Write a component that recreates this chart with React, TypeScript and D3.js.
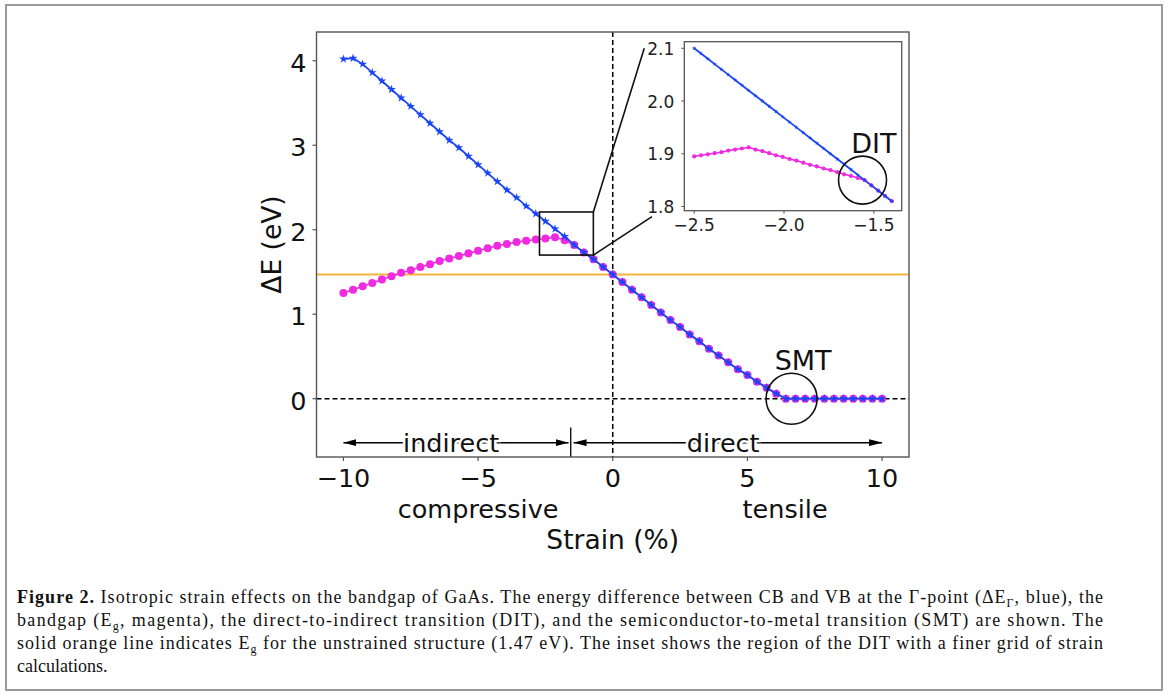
import React from "react";
import * as d3 from "d3";

// ---------- data ----------
const strain = [-10, -9.643, -9.286, -8.929, -8.571, -8.214, -7.857, -7.5, -7.143, -6.786, -6.429, -6.071, -5.714, -5.357, -5, -4.643, -4.286, -3.929, -3.571, -3.214, -2.857, -2.5, -2.143, -1.786, -1.429, -1.071, -0.714, -0.357, 0, 0.357, 0.714, 1.071, 1.429, 1.786, 2.143, 2.5, 2.857, 3.214, 3.571, 3.929, 4.286, 4.643, 5, 5.357, 5.714, 6.071, 6.429, 6.786, 7.143, 7.5, 7.857, 8.214, 8.571, 8.929, 9.286, 9.643, 10];
const deltaGamma = [4.02, 4.03, 3.96, 3.86, 3.76, 3.66, 3.56, 3.46, 3.36, 3.26, 3.16, 3.06, 2.97, 2.87, 2.77, 2.67, 2.57, 2.47, 2.38, 2.28, 2.19, 2.10, 2.01, 1.92, 1.82, 1.73, 1.65, 1.56, 1.47, 1.38, 1.29, 1.20, 1.11, 1.02, 0.93, 0.85, 0.76, 0.68, 0.59, 0.51, 0.43, 0.35, 0.28, 0.20, 0.13, 0.06, 0, 0, 0, 0, 0, 0, 0, 0, 0, 0, 0];
const bandgap = [1.25, 1.29, 1.33, 1.37, 1.41, 1.45, 1.49, 1.52, 1.56, 1.59, 1.63, 1.66, 1.69, 1.72, 1.75, 1.78, 1.81, 1.83, 1.855, 1.87, 1.885, 1.895, 1.91, 1.875, 1.82, 1.73, 1.65, 1.56, 1.47, 1.38, 1.29, 1.20, 1.11, 1.02, 0.93, 0.85, 0.76, 0.68, 0.59, 0.51, 0.43, 0.35, 0.28, 0.20, 0.13, 0.06, 0, 0, 0, 0, 0, 0, 0, 0, 0, 0, 0];

const insetStrain = [-2.5, -2.4621, -2.4241, -2.3862, -2.3483, -2.3103, -2.2724, -2.2345, -2.1966, -2.1586, -2.1207, -2.0828, -2.0448, -2.0069, -1.969, -1.931, -1.8931, -1.8552, -1.8172, -1.7793, -1.7414, -1.7034, -1.6655, -1.6276, -1.5897, -1.5517, -1.5138, -1.4759, -1.4379, -1.4];
const insetGamma = [2.100, 2.090, 2.080, 2.070, 2.060, 2.050, 2.040, 2.030, 2.020, 2.010, 2.000, 1.990, 1.980, 1.970, 1.960, 1.950, 1.940, 1.930, 1.920, 1.910, 1.900, 1.890, 1.880, 1.870, 1.860, 1.850, 1.840, 1.830, 1.820, 1.810];
const insetGap = [1.895, 1.897, 1.899, 1.901, 1.903, 1.906, 1.908, 1.910, 1.912, 1.908, 1.905, 1.901, 1.897, 1.894, 1.890, 1.887, 1.883, 1.879, 1.876, 1.872, 1.869, 1.865, 1.861, 1.858, 1.854, 1.850, 1.840, 1.830, 1.820, 1.810];

const xTicks = [-10, -5, 0, 5, 10];
const yTicks = [0, 1, 2, 3, 4];
const insetXTicks = [-2.5, -2.0, -1.5];
const insetYTicks = [1.8, 1.9, 2.0, 2.1];

const unstrainedGap = 1.47;
const zoomBox = { x0: -2.72, x1: -0.72, y0: 1.70, y1: 2.21 };
const connectors = [
  { fromX: -0.72, fromY: 2.21, toX: 1.17, toY: 4.147 },
  { fromX: -0.72, fromY: 1.70, toX: 1.456, toY: 2.154 },
];
const regions = [
  { label: "indirect", from: -10, to: -1.64, textX: -6 },
  { label: "direct", from: -1.455, to: 10, textX: 4.1 },
];
const regionY = -0.52;
const dividerX = -1.56;
const dividerTop = -0.34;
const sideLabels = [
  { label: "compressive", x: -5 },
  { label: "tensile", x: 6.4 },
];
const smt = { x: 6.64, y: 0, textX: 7.07, textY: 0.34 };
const dit = { x: -1.563, y: 1.85, textX: -1.5, textY: 1.901 };

const captionLines = [
  "Isotropic strain effects on the bandgap of GaAs. The energy difference between CB and VB at the Γ-point (ΔE",
  "bandgap (E",
  "solid orange line indicates E",
  "calculations.",
];

// ---------- styles ----------
const BLUE = "#1a45f5";
const MAGENTA = "#f02ae0";
const ORANGE = "#f2b53a";
const SPINE = "#555";
const FONT = "DejaVu Sans";

export default function App() {
  const x = d3.scaleLinear().domain([-11, 11]).range([316.5, 909]);
  const y = d3.scaleLinear().domain([-0.69, 4.34]).range([457, 32]);
  const xi = d3.scaleLinear().domain([-2.555, -1.345]).range([684.3, 901.7]);
  const yi = d3.scaleLinear().domain([1.792, 2.1125]).range([210.7, 41.7]);

  const [xl, xr] = x.range();
  const [yb, yt] = y.range();
  const [ixl, ixr] = xi.range();
  const [iyb, iyt] = yi.range();

  const mainLine = d3.line<number>().x((_, i) => x(strain[i])).y((d) => y(d));
  const insetLine = d3.line<number>().x((_, i) => xi(insetStrain[i])).y((d) => yi(d));
  const star = d3.symbol(d3.symbolStar, 24)() as string;
  const smallStar = d3.symbol(d3.symbolStar, 6)() as string;

  return (
    <svg width={1168} height={697} style={{ position: "absolute", left: 0, top: 0, background: "#fff" }}>
      <defs>
        <marker id="ah" viewBox="0 0 13 7" refX={13} refY={3.5} markerWidth={13} markerHeight={7} markerUnits="userSpaceOnUse" orient="auto-start-reverse">
          <path d="M0,0 L13,3.5 L0,7 z" fill="#000" />
        </marker>
        <clipPath id="mainClip">
          <rect x={xl} y={yt} width={xr - xl} height={yb - yt} />
        </clipPath>
      </defs>

      {/* outer frame */}
      <rect x={6} y={5} width={1156} height={685} fill="none" stroke="#9a9a9a" strokeWidth={2} />

      {/* main axes content */}
      <g clipPath="url(#mainClip)">
        <line x1={x(0)} x2={x(0)} y1={yt} y2={yb} stroke="#000" strokeWidth={1.5} strokeDasharray="5,3" />
        <line x1={xl} x2={xr} y1={y(0)} y2={y(0)} stroke="#000" strokeWidth={1.5} strokeDasharray="5,3" />
        <line x1={xl} x2={xr} y1={y(unstrainedGap)} y2={y(unstrainedGap)} stroke={ORANGE} strokeWidth={2} />

        <path d={mainLine(bandgap) || ""} fill="none" stroke={MAGENTA} strokeWidth={1.6} />
        {bandgap.map((v, i) => (
          <circle key={"m" + i} cx={x(strain[i])} cy={y(v)} r={4} fill={MAGENTA} />
        ))}
        <path d={mainLine(deltaGamma) || ""} fill="none" stroke={BLUE} strokeWidth={1.8} />
        {deltaGamma.map((v, i) => (
          <path key={"b" + i} d={star} transform={`translate(${x(strain[i])},${y(v)})`} fill={BLUE} />
        ))}

        {/* zoom box + SMT */}
        <rect x={x(zoomBox.x0)} y={y(zoomBox.y1)} width={x(zoomBox.x1) - x(zoomBox.x0)} height={y(zoomBox.y0) - y(zoomBox.y1)} fill="none" stroke="#111" strokeWidth={1.6} />
        <circle cx={x(smt.x)} cy={y(smt.y)} r={25.5} fill="none" stroke="#111" strokeWidth={1.6} />
        <text x={x(smt.textX)} y={y(smt.textY)} textAnchor="middle" fontFamily={FONT} fontSize={27} fill="#111">SMT</text>

        {/* region arrows */}
        {regions.map((r) => (
          <g key={r.label}>
            <line x1={x(r.textX)} x2={x(r.from)} y1={y(regionY)} y2={y(regionY)} stroke="#000" strokeWidth={1.5} markerEnd="url(#ah)" />
            <line x1={x(r.textX)} x2={x(r.to)} y1={y(regionY)} y2={y(regionY)} stroke="#000" strokeWidth={1.5} markerEnd="url(#ah)" />
            <text x={x(r.textX)} y={y(regionY) + 9} textAnchor="middle" fontFamily={FONT} fontSize={25.5} fill="#111" stroke="#fff" strokeWidth={5} style={{ paintOrder: "stroke" }}>{r.label}</text>
          </g>
        ))}
        <line x1={x(dividerX)} x2={x(dividerX)} y1={y(dividerTop)} y2={yb} stroke="#000" strokeWidth={1.3} />
      </g>

      {/* connectors */}
      {connectors.map((c, i) => (
        <line key={"c" + i} x1={x(c.fromX)} y1={y(c.fromY)} x2={x(c.toX)} y2={y(c.toY)} stroke="#111" strokeWidth={1.6} />
      ))}

      {/* main spines */}
      <rect x={xl} y={yt} width={xr - xl} height={yb - yt} fill="none" stroke={SPINE} strokeWidth={1.4} />
      {xTicks.map((t) => (
        <g key={"xt" + t}>
          <line x1={x(t)} x2={x(t)} y1={yb} y2={yb + 4} stroke={SPINE} strokeWidth={1.2} />
          <text x={x(t)} y={yb + 30} textAnchor="middle" fontFamily={FONT} fontSize={25.5} fill="#111">{t < 0 ? "\u2212" + Math.abs(t) : String(t)}</text>
        </g>
      ))}
      {yTicks.map((t) => (
        <g key={"yt" + t}>
          <line x1={xl - 4} x2={xl} y1={y(t)} y2={y(t)} stroke={SPINE} strokeWidth={1.2} />
          <text x={xl - 10} y={y(t) + 11} textAnchor="end" fontFamily={FONT} fontSize={25.5} fill="#111">{String(t)}</text>
        </g>
      ))}
      {sideLabels.map((s) => (
        <text key={s.label} x={x(s.x)} y={518} textAnchor="middle" fontFamily={FONT} fontSize={25.5} fill="#111">{s.label}</text>
      ))}
      <text x={(xl + xr) / 2} y={549} textAnchor="middle" fontFamily={FONT} fontSize={26.5} fill="#111">Strain (%)</text>
      <text transform={`translate(281,${(yt + yb) / 2}) rotate(-90)`} textAnchor="middle" fontFamily={FONT} fontSize={26.5} fill="#111">ΔE (eV)</text>

      {/* inset */}
      <rect x={ixl} y={iyt} width={ixr - ixl} height={iyb - iyt} fill="#fff" />
      <path d={insetLine(insetGap) || ""} fill="none" stroke={MAGENTA} strokeWidth={1.6} />
      {insetGap.map((v, i) => (
        <circle key={"im" + i} cx={xi(insetStrain[i])} cy={yi(v)} r={2.1} fill={MAGENTA} />
      ))}
      <path d={insetLine(insetGamma) || ""} fill="none" stroke={BLUE} strokeWidth={1.8} />
      {insetGamma.map((v, i) => (
        <path key={"ib" + i} d={smallStar} transform={`translate(${xi(insetStrain[i])},${yi(v)})`} fill={BLUE} />
      ))}
      <circle cx={xi(dit.x)} cy={yi(dit.y)} r={24} fill="none" stroke="#111" strokeWidth={1.6} />
      <text x={xi(dit.textX)} y={yi(dit.textY)} textAnchor="middle" fontFamily={FONT} fontSize={27} fill="#111">DIT</text>
      <rect x={ixl} y={iyt} width={ixr - ixl} height={iyb - iyt} fill="none" stroke={SPINE} strokeWidth={1.3} />
      {insetXTicks.map((t) => (
        <g key={"ixt" + t}>
          <line x1={xi(t)} x2={xi(t)} y1={iyb} y2={iyb + 3} stroke={SPINE} strokeWidth={1} />
          <text x={xi(t)} y={iyb + 20} textAnchor="middle" fontFamily={FONT} fontSize={17} fill="#222">{"\u2212" + Math.abs(t).toFixed(1)}</text>
        </g>
      ))}
      {insetYTicks.map((t) => (
        <g key={"iyt" + t}>
          <line x1={ixl - 3} x2={ixl} y1={yi(t)} y2={yi(t)} stroke={SPINE} strokeWidth={1} />
          <text x={ixl - 10} y={yi(t) + 6.5} textAnchor="end" fontFamily={FONT} fontSize={17} fill="#222">{t.toFixed(1)}</text>
        </g>
      ))}

      {/* caption */}
      <g fontFamily="Liberation Serif" fontSize={18} fill="#111">
        <text x={17} y={603} textLength={1086} lengthAdjust="spacing">
          <tspan fontWeight="bold">Figure 2.</tspan>
          <tspan> {captionLines[0]}</tspan>
          <tspan dy={4} fontSize={12}>Γ</tspan>
          <tspan dy={-4}>, blue), the</tspan>
        </text>
        <text x={17} y={626} textLength={1086} lengthAdjust="spacing">
          <tspan>{captionLines[1]}</tspan>
          <tspan dy={4} fontSize={12}>g</tspan>
          <tspan dy={-4}>, magenta), the direct-to-indirect transition (DIT), and the semiconductor-to-metal transition (SMT) are shown. The</tspan>
        </text>
        <text x={17} y={649} textLength={1086} lengthAdjust="spacing">
          <tspan>{captionLines[2]}</tspan>
          <tspan dy={4} fontSize={12}>g</tspan>
          <tspan dy={-4}> for the unstrained structure (1.47 eV). The inset shows the region of the DIT with a finer grid of strain</tspan>
        </text>
        <text x={17} y={672}>{captionLines[3]}</text>
      </g>
    </svg>
  );
}
